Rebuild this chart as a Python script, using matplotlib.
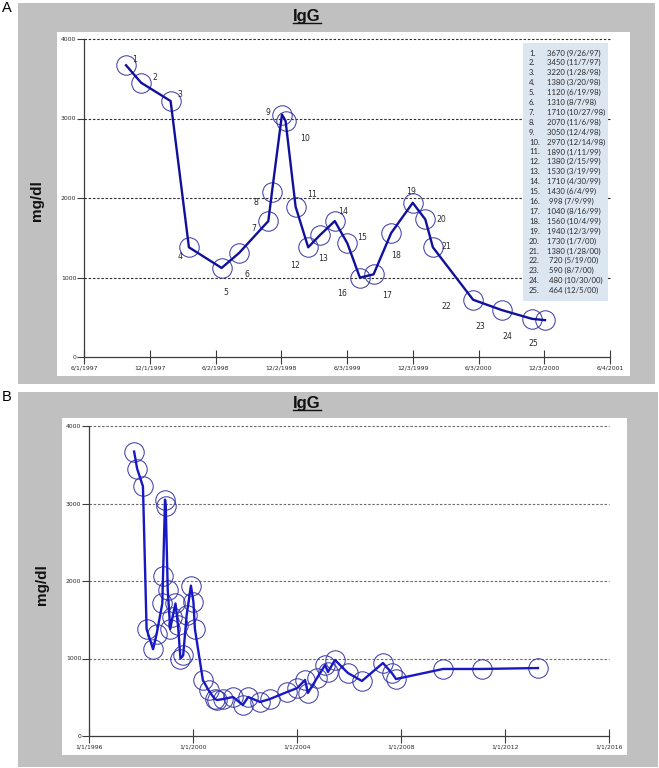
import matplotlib
matplotlib.use('Agg')
import matplotlib.pyplot as plt
import matplotlib.dates as mdates
from matplotlib.patches import Rectangle
from matplotlib.lines import Line2D
import pandas as pd

W, H = 659, 768
GRAY_BG, LEGEND_BG = '#c0c0c0', '#dce6f1'
LINE_A, LINE_B, CIRCLE = '#10109c', '#1818c4', '#3434a6'
AXIS, TXT = '#3c3c3c', '#2a2a2a'

# ---- data: IgG (mg/dl) by sampling date ----
IGG_A = [3670, 3450, 3220, 1380, 1120, 1310, 1710, 2070, 3050, 2970, 1890, 1380, 1530,
         1710, 1430, 998, 1040, 1560, 1940, 1730, 1380, 720, 590, 480, 464]
DATES_A = ['9/26/97', '11/7/97', '1/28/98', '3/20/98', '6/19/98', '8/7/98', '10/27/98',
           '11/6/98', '12/4/98', '12/14/98', '1/11/99', '2/15/99', '3/19/99', '4/30/99',
           '6/4/99', '7/9/99', '8/16/99', '10/4/99', '12/3/99', '1/7/00', '1/28/00',
           '5/19/00', '8/7/00', '10/30/00', '12/5/00']
# later follow-up (panel B only)
DATES_LATER = ['2001-02-25', '2001-07-16', '2001-12-01', '2002-02-14', '2002-07-31',
               '2002-12-16', '2003-08-15', '2004-01-05', '2004-04-23', '2004-06-02',
               '2004-10-08', '2005-01-30', '2005-03-11', '2005-06-18', '2005-12-16',
               '2006-07-01', '2007-04-23', '2007-08-25', '2007-10-23', '2009-08-14',
               '2011-02-14', '2013-04-08']
IGG_LATER = [477, 503, 400, 503, 439, 477, 568, 619, 723, 555, 748, 916, 826, 981, 813,
             710, 942, 813, 735, 865, 865, 877]
TICKS_A = ['6/1/1997', '12/1/1997', '6/2/1998', '12/2/1998', '6/3/1999', '12/3/1999',
           '6/3/2000', '12/3/2000', '6/4/2001']
TICKS_B = ['1/1/1996', '1/1/2000', '1/1/2004', '1/1/2008', '1/1/2012', '1/1/2016']
Y_TICKS = [0, 1000, 2000, 3000, 4000]

# number-label offsets in panel A (pixels, x right / y down)
LABEL_OFFSETS = [(9, -6), (14, -5), (9, -7), (-9, 9), (4, 25), (8, 22), (-15, 7), (-16, 10),
                 (-14, -2), (19, 18), (16, -12), (-13, 18), (3, 23), (8, -10), (15, -6),
                 (-18, 16), (13, 21), (5, 23), (-2, -11), (16, 0), (13, -1), (-27, 7),
                 (-22, 16), (-25, 18), (-12, 23)]

fig = plt.figure(figsize=(W / 100, H / 100), dpi=100)


def box(x0, y0, x1, y1, color, z=-5):
    r = Rectangle((x0 / W, 1 - y1 / H), (x1 - x0) / W, (y1 - y0) / H,
                  transform=fig.transFigure, fc=color, ec='none', zorder=z)
    fig.add_artist(r)
    return r


def ftext(x, y, s, **kw):
    return fig.text(x / W, 1 - y / H, s, **kw)


def panel(px, dates, vals, ticks, tick_fmt, line_col, grid_col):
    x0, y0, x1, y1 = px
    ax = fig.add_axes([x0 / W, 1 - y1 / H, (x1 - x0) / W, (y1 - y0) / H])
    ax.set_facecolor('none')
    for v in Y_TICKS[1:]:
        ax.axhline(v, color=grid_col, ls=(0, (2.2, 1.6)), lw=0.8, zorder=1, clip_on=False)
    ax.plot(dates, vals, 'o', ms=14, mfc='none', mec=CIRCLE, mew=0.7, zorder=2, clip_on=False)
    ax.plot(dates, vals, '-', color=line_col, lw=1.7, zorder=3, clip_on=False)
    tk = pd.to_datetime(ticks, format=tick_fmt)
    ax.set_xlim(tk[0], tk[-1])
    ax.set_ylim(0, 4000)
    ax.set_xticks(tk)
    ax.set_xticklabels(ticks)
    ax.set_yticks(Y_TICKS)
    ax.set_yticklabels([str(v) for v in Y_TICKS])
    for s in ('top', 'right'):
        ax.spines[s].set_visible(False)
    for s in ('left', 'bottom'):
        ax.spines[s].set_color(AXIS)
        ax.spines[s].set_linewidth(0.9)
    ax.tick_params(axis='x', direction='inout', length=10, width=0.8, color=AXIS,
                   labelsize=4.4, labelcolor=TXT, pad=1)
    ax.tick_params(axis='y', direction='out', length=5, width=0.8, color=AXIS,
                   labelsize=4.4, labelcolor=TXT, pad=0.5)
    return ax


# ---------- panel backgrounds ----------
box(18, 3, 655, 384, GRAY_BG)
box(57, 32, 630, 376, 'white')
box(18, 392, 658, 767, GRAY_BG)
box(62, 418, 627, 755, 'white')

dA = pd.to_datetime(DATES_A, format='%m/%d/%y')
dB = dA.append(pd.to_datetime(DATES_LATER))

# ---------- panel A ----------
axA = panel((84, 39, 610, 357), dA, IGG_A, TICKS_A, '%m/%d/%Y', LINE_A, '#2e2e2e')
for i, (d, v) in enumerate(zip(dA, IGG_A)):
    dx, dy = LABEL_OFFSETS[i]
    axA.annotate(str(i + 1), (mdates.date2num(d), v), xytext=(dx, -dy),
                 textcoords='offset pixels', ha='center', va='center',
                 fontsize=5.6, color=TXT, zorder=4, annotation_clip=False)

box(523, 43, 608, 301, LEGEND_BG, z=5)
for i, (v, d) in enumerate(zip(IGG_A, DATES_A)):
    y = 53 + i * 9.9
    ftext(529, y, '%d.' % (i + 1), ha='left', va='center', fontsize=5.6,
          family='Lato', color=TXT, zorder=6)
    ftext(547, y, '%4s (%s)' % (v, d), ha='left', va='center', fontsize=5.6,
          family='Lato', color=TXT, zorder=6)

# ---------- panel B ----------
panel((89, 426, 609, 736), dB, IGG_A + IGG_LATER, TICKS_B, '%m/%d/%Y', LINE_B, '#6a6a6a')

# ---------- titles, axis labels, panel letters ----------
titles = [ftext(307, 21, 'IgG', ha='center', va='baseline', fontsize=12,
                fontweight='bold', family='Liberation Sans', color='#111111'),
          ftext(307, 408, 'IgG', ha='center', va='baseline', fontsize=12,
                fontweight='bold', family='Liberation Sans', color='#111111')]
ftext(37, 201, 'mg/dl', rotation=90, ha='center', va='center', fontsize=11,
      fontweight='bold', family='Liberation Sans', color='#111111')
ftext(42, 585, 'mg/dl', rotation=90, ha='center', va='center', fontsize=11,
      fontweight='bold', family='Liberation Sans', color='#111111')
ftext(7, 8, 'A', ha='center', va='center', fontsize=10.5, family='Liberation Sans')
ftext(7, 397, 'B', ha='center', va='center', fontsize=10.5, family='Liberation Sans')

fig.canvas.draw()
for t, yb in zip(titles, (21, 408)):
    bb = t.get_window_extent()
    yl = 1 - (yb + 1.8) / H
    fig.add_artist(Line2D([bb.x0 / W, bb.x1 / W], [yl, yl], transform=fig.transFigure,
                          color='#111111', lw=1.0))

fig.savefig('out.png', dpi=100, facecolor='white')
